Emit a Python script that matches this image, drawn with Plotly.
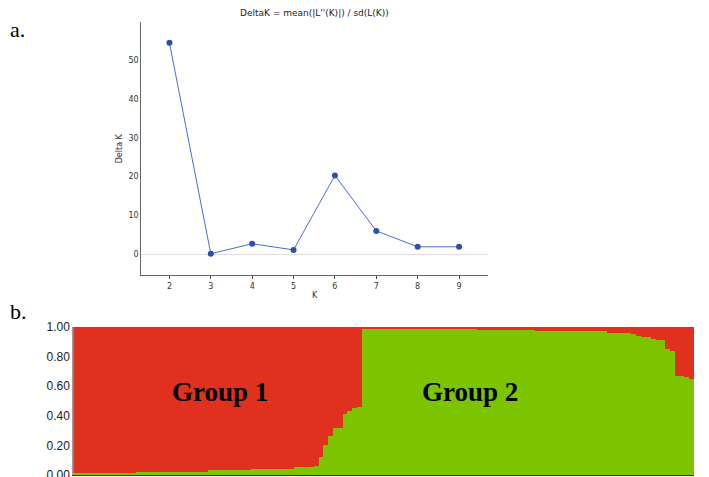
import plotly.graph_objects as go

# panel a: Evanno DeltaK
k_values = [2, 3, 4, 5, 6, 7, 8, 9]
delta_k = [54.5, 0.1, 2.7, 1.1, 20.3, 6.0, 1.9, 1.9]

# panel b: membership (green = group 2 share) per individual, sorted
green = [0.01]*13 + [0.02]*15 + [0.03]*9 + [0.04]*9 + [0.05, 0.05, 0.05, 0.05, 0.06] + \
        [0.12, 0.20, 0.26, 0.32, 0.32, 0.41, 0.43, 0.45, 0.46] + \
        [0.99]*12 + [0.985]*12 + [0.98]*12 + [0.975]*8 + [0.97]*7 + \
        [0.96]*5 + [0.95, 0.94, 0.93, 0.93, 0.92] + [0.91, 0.91, 0.85, 0.84] + \
        [0.67, 0.67, 0.66, 0.65]
red = [1 - g for g in green]
ind = list(range(len(green)))

fig = go.Figure()
fig.add_trace(go.Scatter(x=k_values, y=delta_k, mode="lines+markers",
                         line=dict(color="#4a6bd0", width=1),
                         marker=dict(color="#2f4fb0", size=6),
                         xaxis="x", yaxis="y", showlegend=False))
fig.add_trace(go.Bar(x=ind, y=green, marker=dict(color="#7dc400", line_width=0),
                     width=1, xaxis="x2", yaxis="y2", showlegend=False))
fig.add_trace(go.Bar(x=ind, y=red, marker=dict(color="#e0301e", line_width=0),
                     width=1, xaxis="x2", yaxis="y2", showlegend=False))

fig.update_layout(
    width=709, height=477, margin=dict(l=0, r=0, t=0, b=0, autoexpand=False),
    plot_bgcolor="white", paper_bgcolor="white", barmode="stack", bargap=0,
    font=dict(family="DejaVu Sans", color="#333"),
    xaxis=dict(domain=[0.188, 0.677], range=[1.32, 9.7], tickvals=k_values,
               showgrid=False, zeroline=False, showline=True, linecolor="#666",
               ticks="outside", ticklen=3, tickfont=dict(size=8), automargin=False,
               title=dict(text="K", font=dict(size=8), standoff=2),
               anchor="y"),
    yaxis=dict(domain=[0.44, 0.97], range=[-5.4, 59.8], tickvals=[0, 10, 20, 30, 40, 50],
               showgrid=False, zeroline=True, zerolinecolor="#ddd", zerolinewidth=1,
               showline=True, linecolor="#666", tickfont=dict(size=8), automargin=False,
               title=dict(text="Delta K", font=dict(size=8), standoff=4),
               anchor="x"),
    xaxis2=dict(domain=[0.092, 0.968], range=[-0.5, len(green) - 0.5],
                showticklabels=False, showgrid=False, zeroline=False, automargin=False,
                showline=True, linecolor="#333", anchor="y2"),
    yaxis2=dict(domain=[0.021, 0.331], range=[0, 1], tickvals=[0, 0.2, 0.4, 0.6, 0.8, 1.0],
                tickformat=".2f", showgrid=False, zeroline=False, showline=True, automargin=False,
                linecolor="#999", tickfont=dict(size=12, family="Liberation Sans Narrow, Arial Narrow, sans-serif", color="#222"),
                anchor="x2"),
    annotations=[
        dict(text="DeltaK = mean(|L''(K)|) / sd(L(K))", x=0.432, y=1.005, xref="paper", yref="paper",
             xanchor="center", yanchor="top", showarrow=False, font=dict(size=9, color="#222")),
        dict(text="a.", x=0.0, y=0.985, xref="paper", yref="paper", xanchor="left", yanchor="top",
             showarrow=False, font=dict(size=22, family="Liberation Serif", color="black")),
        dict(text="b.", x=0.0, y=0.395, xref="paper", yref="paper", xanchor="left", yanchor="top",
             showarrow=False, font=dict(size=22, family="Liberation Serif", color="black")),
        dict(text="<b>Group 1</b>", x=30, y=0.56, xref="x2", yref="y2", showarrow=False,
             font=dict(size=27, family="Liberation Serif", color="black")),
        dict(text="<b>Group 2</b>", x=82, y=0.56, xref="x2", yref="y2", showarrow=False,
             font=dict(size=27, family="Liberation Serif", color="black")),
    ],
)

fig.write_html("out.html")
